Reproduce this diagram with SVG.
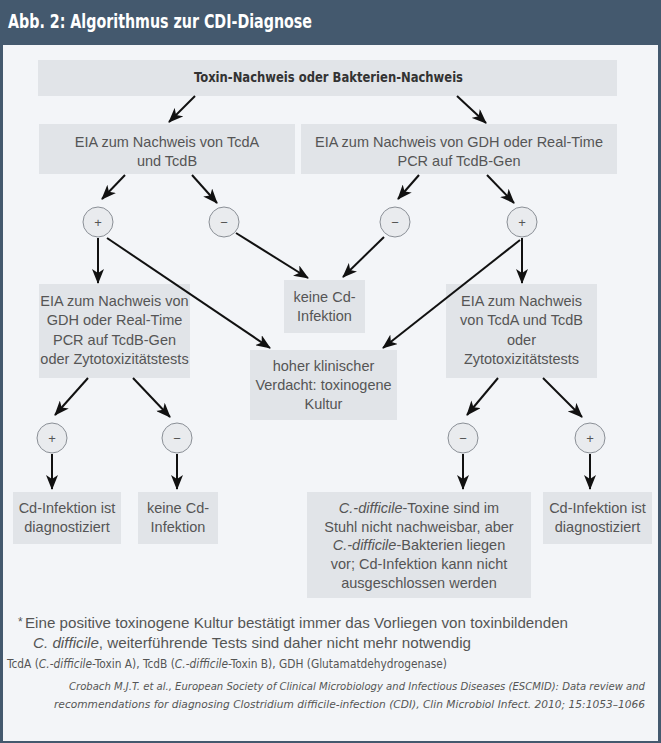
<svg xmlns="http://www.w3.org/2000/svg" width="661" height="743" viewBox="0 0 661 743">
<defs>
<marker id="ah" markerWidth="15" markerHeight="12" viewBox="0 0 15 12" refX="14" refY="6" orient="auto" markerUnits="userSpaceOnUse">
<path d="M0,0 L15,6 L0,12 L4,6 z" fill="#111"/>
</marker>
<style>
.box{fill:#e1e4e8}
.t{font-family:"Liberation Sans",Arial,sans-serif;font-size:14.5px;fill:#555;text-anchor:middle}
.c{fill:#e9ebee;stroke:#8a8f96;stroke-width:1}
.s{font-family:"Liberation Sans",Arial,sans-serif;font-size:13px;fill:#555;text-anchor:middle}
.cond{font-family:"Liberation Sans Narrow","DejaVu Sans Condensed","Liberation Sans",sans-serif;font-stretch:condensed}
.e{stroke:#111;stroke-width:2;fill:none;marker-end:url(#ah)}
</style>
</defs>
<rect x="0" y="0" width="661" height="743" fill="#44596e"/>
<rect x="3" y="45" width="655" height="696" fill="#f3f5f8"/>
<text x="8" y="28" class="cond" font-size="20" font-weight="bold" fill="#ffffff" textLength="304" lengthAdjust="spacingAndGlyphs">Abb. 2: Algorithmus zur CDI-Diagnose</text>

<g id="n-top"><rect class="box" x="38" y="60" width="579" height="36"/>
<text x="328.5" y="82" class="cond" font-size="14" font-weight="bold" fill="#333" text-anchor="middle" textLength="269" lengthAdjust="spacingAndGlyphs">Toxin-Nachweis oder Bakterien-Nachweis</text></g>

<g id="n-eia1"><rect class="box" x="39" y="124" width="256" height="50"/>
<text class="t" x="167" y="147">EIA zum Nachweis von TcdA</text><text class="t" x="167" y="166">und TcdB</text></g>

<g id="n-eia2"><rect class="box" x="301" y="124" width="316" height="50"/>
<text class="t" x="459" y="147">EIA zum Nachweis von GDH oder Real-Time</text><text class="t" x="459" y="166">PCR auf TcdB-Gen</text></g>

<g id="n-p1"><circle class="c" cx="98" cy="222" r="15"/><text class="s" x="98" y="226.5">+</text></g>
<g id="n-m1"><circle class="c" cx="224" cy="222" r="15"/><text class="s" x="224" y="226.5">−</text></g>
<g id="n-m2"><circle class="c" cx="395" cy="222" r="15"/><text class="s" x="395" y="226.5">−</text></g>
<g id="n-p2"><circle class="c" cx="522" cy="222" r="15"/><text class="s" x="522" y="226.5">+</text></g>

<g id="n-eia3"><rect class="box" x="39" y="284" width="151" height="94"/>
<text class="t" x="114.5" y="306">EIA zum Nachweis von</text><text class="t" x="114.5" y="325.3">GDH oder Real-Time</text><text class="t" x="114.5" y="344.6">PCR auf TcdB-Gen</text><text class="t" x="114.5" y="364">oder Zytotoxizitätstests</text></g>

<g id="n-keine1"><rect class="box" x="284" y="280" width="81" height="53"/>
<text class="t" x="324.5" y="302">keine Cd-</text><text class="t" x="324.5" y="321">Infektion</text></g>

<g id="n-eia4"><rect class="box" x="446" y="284" width="151" height="94"/>
<text class="t" x="521.5" y="306">EIA zum Nachweis</text><text class="t" x="521.5" y="325.3">von TcdA und TcdB</text><text class="t" x="521.5" y="344.6">oder</text><text class="t" x="521.5" y="364">Zytotoxizitätstests</text></g>

<g id="n-hoher"><rect class="box" x="250" y="350" width="147" height="70"/>
<text class="t" x="323.5" y="371">hoher klinischer</text><text class="t" x="323.5" y="390">Verdacht: toxinogene</text><text class="t" x="323.5" y="409">Kultur</text></g>

<g id="n-p3"><circle class="c" cx="52" cy="438" r="15"/><text class="s" x="52" y="442.5">+</text></g>
<g id="n-m3"><circle class="c" cx="177" cy="438" r="15"/><text class="s" x="177" y="442.5">−</text></g>
<g id="n-m4"><circle class="c" cx="463" cy="438" r="15"/><text class="s" x="463" y="442.5">−</text></g>
<g id="n-p4"><circle class="c" cx="590" cy="438" r="15"/><text class="s" x="590" y="442.5">+</text></g>

<g id="n-diag1"><rect class="box" x="13" y="492" width="108" height="52"/>
<text class="t" x="67" y="513">Cd-Infektion ist</text><text class="t" x="67" y="531.5">diagnostiziert</text></g>
<g id="n-keine2"><rect class="box" x="138" y="492" width="80" height="52"/>
<text class="t" x="178" y="513">keine Cd-</text><text class="t" x="178" y="531.5">Infektion</text></g>
<g id="n-toxine"><rect class="box" x="307" y="492" width="224" height="106"/>
<text class="t" x="419" y="513"><tspan font-style="italic">C.-difficile</tspan>-Toxine sind im</text>
<text class="t" x="419" y="531.7">Stuhl nicht nachweisbar, aber</text>
<text class="t" x="419" y="550.4"><tspan font-style="italic">C.-difficile</tspan>-Bakterien liegen</text>
<text class="t" x="419" y="569.1">vor; Cd-Infektion kann nicht</text>
<text class="t" x="419" y="587.8">ausgeschlossen werden</text></g>
<g id="n-diag2"><rect class="box" x="543" y="492" width="109" height="52"/>
<text class="t" x="597.5" y="513">Cd-Infektion ist</text><text class="t" x="597.5" y="531.5">diagnostiziert</text></g>

<g id="connectors">
<line class="e" x1="195" y1="96" x2="169" y2="122"/>
<line class="e" x1="457" y1="96" x2="486" y2="123"/>
<line class="e" x1="125" y1="175" x2="102" y2="199"/>
<line class="e" x1="192" y1="175" x2="217" y2="203"/>
<line class="e" x1="419" y1="175" x2="398" y2="199"/>
<line class="e" x1="487" y1="175" x2="514" y2="203"/>
<line class="e" x1="98" y1="238" x2="98" y2="283"/>
<line class="e" x1="107" y1="238" x2="270" y2="348"/>
<line class="e" x1="236" y1="233" x2="308" y2="278"/>
<line class="e" x1="384" y1="237" x2="343" y2="277"/>
<line class="e" x1="522" y1="238" x2="522" y2="283"/>
<line class="e" x1="520" y1="240" x2="383" y2="348"/>
<line class="e" x1="88" y1="378" x2="55" y2="415"/>
<line class="e" x1="133" y1="378" x2="170" y2="417"/>
<line class="e" x1="498" y1="378" x2="467" y2="415"/>
<line class="e" x1="543" y1="378" x2="582" y2="417"/>
<line class="e" x1="52" y1="454" x2="52" y2="489"/>
<line class="e" x1="177" y1="454" x2="177" y2="489"/>
<line class="e" x1="463" y1="454" x2="463" y2="489"/>
<line class="e" x1="590" y1="454" x2="590" y2="489"/>
</g>

<text x="18" y="626" font-family="Liberation Sans,Arial,sans-serif" font-size="12" fill="#555">*</text>
<text x="25" y="628" font-family="Liberation Sans,Arial,sans-serif" font-size="15" fill="#555" textLength="543" lengthAdjust="spacingAndGlyphs">Eine positive toxinogene Kultur bestätigt immer das Vorliegen von toxinbildenden</text>
<text x="33" y="648" font-family="Liberation Sans,Arial,sans-serif" font-size="15" fill="#555" textLength="438" lengthAdjust="spacingAndGlyphs"><tspan font-style="italic">C. difficile</tspan>, weiterführende Tests sind daher nicht mehr notwendig</text>
<text x="7" y="668" class="cond" font-size="11.5" fill="#555" textLength="440" lengthAdjust="spacingAndGlyphs">TcdA (<tspan font-style="italic">C.-difficile</tspan>-Toxin A), TcdB (<tspan font-style="italic">C.-difficile</tspan>-Toxin B), GDH (Glutamatdehydrogenase)</text>
<text x="69" y="690" class="cond" font-size="11" font-style="italic" fill="#555" textLength="576" lengthAdjust="spacingAndGlyphs">Crobach M.J.T. et al., European Society of Clinical Microbiology and Infectious Diseases (ESCMID): Data review and</text>
<text x="54" y="708" class="cond" font-size="11" font-style="italic" fill="#555" textLength="591" lengthAdjust="spacingAndGlyphs">recommendations for diagnosing Clostridium difficile-infection (CDI), Clin Microbiol Infect. 2010; 15:1053–1066</text>
</svg>
